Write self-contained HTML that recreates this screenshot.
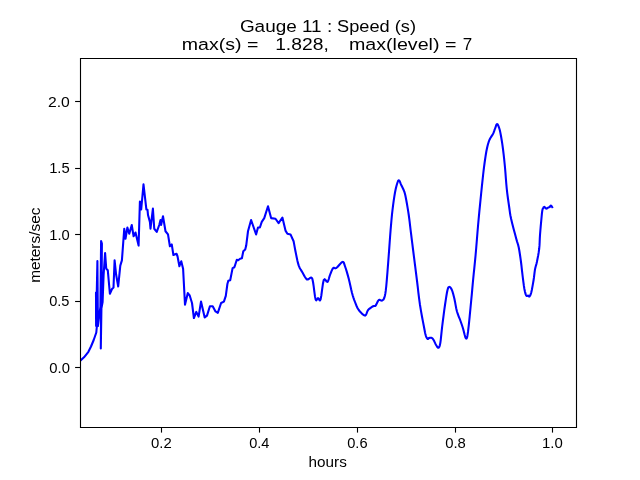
<!DOCTYPE html>
<html><head><meta charset="utf-8"><style>
html,body{margin:0;padding:0;background:#fff;width:640px;height:480px;overflow:hidden}
svg{display:block;will-change:transform}
.t{font-family:"Liberation Sans",sans-serif;font-size:13.89px;fill:#000}
.tt{font-family:"Liberation Sans",sans-serif;font-size:16.67px;fill:#000;white-space:pre}
</style></head><body>
<svg width="640" height="480" viewBox="0 0 640 480">
<clipPath id="c"><rect x="80.5" y="58.5" width="496" height="369"/></clipPath>
<path d="M78.00 362.90 L80.00 361.00 L84.00 357.30 L88.40 351.80 L91.00 346.50 L93.70 340.00 L96.30 332.50 L96.90 326.00 L96.00 292.50 L96.10 326.00 L97.40 261.00 L97.90 326.00 L100.40 307.00 L101.10 241.00 L101.90 243.50 L101.40 310.00 L100.80 348.50 L101.10 310.00 L102.60 302.00 L103.60 275.00 L105.10 253.00 L106.25 268.75 L107.80 270.30 L109.90 293.75 L112.00 289.00 L113.50 287.50 L114.60 260.40 L116.10 274.50 L118.20 286.50 L120.30 265.60 L121.90 260.40 L124.25 228.75 L125.50 238.75 L127.40 227.50 L129.25 233.75 L131.75 225.00 L133.60 236.25 L135.50 232.50 L138.60 245.60 L139.90 201.50 L141.20 209.50 L143.50 184.30 L146.40 209.60 L147.50 209.80 L148.00 215.00 L149.90 221.90 L150.50 228.75 L152.90 208.60 L154.25 228.75 L156.75 231.90 L159.25 225.00 L160.50 220.00 L161.10 225.00 L163.00 216.25 L165.50 231.25 L168.00 234.40 L169.90 246.25 L171.75 244.40 L173.40 255.00 L176.50 253.75 L177.50 256.25 L179.40 266.25 L181.25 261.25 L183.10 268.75 L185.00 304.80 L187.80 293.10 L189.70 295.50 L192.00 303.00 L193.90 318.00 L196.30 311.90 L198.60 316.60 L201.00 301.60 L204.70 317.50 L207.00 315.60 L209.90 306.20 L212.70 306.20 L215.50 311.40 L217.80 312.80 L221.10 303.00 L223.90 301.60 L225.80 295.90 L227.40 284.00 L228.30 280.80 L230.20 280.30 L232.60 268.10 L234.40 267.20 L236.80 259.70 L238.20 260.20 L240.10 258.70 L241.90 258.30 L243.30 251.20 L245.20 249.40 L246.20 245.60 L248.00 231.25 L251.10 220.00 L256.10 234.40 L258.00 227.50 L259.90 227.50 L261.75 221.90 L264.25 218.10 L268.00 206.25 L271.10 218.10 L275.50 218.75 L278.60 223.10 L282.40 217.50 L285.50 230.60 L287.40 233.75 L290.50 234.40 L293.60 241.25 L294.05 243.66 L294.68 247.12 L295.41 250.94 L296.10 254.40 L296.73 257.44 L297.35 260.39 L298.01 263.15 L298.75 265.60 L299.59 267.63 L300.52 269.32 L301.49 270.88 L302.50 272.50 L303.56 274.43 L304.66 276.50 L305.79 278.29 L306.90 279.40 L308.05 279.38 L309.23 278.57 L310.34 277.70 L311.25 277.50 L311.87 277.99 L312.29 278.82 L312.65 280.25 L313.10 282.50 L313.68 286.31 L314.31 291.34 L314.96 296.18 L315.60 299.40 L316.23 300.29 L316.85 299.72 L317.48 298.67 L318.10 298.10 L318.71 298.73 L319.31 299.88 L319.93 300.47 L320.60 299.40 L321.33 295.51 L322.10 289.66 L322.91 283.84 L323.75 280.00 L324.67 279.18 L325.67 280.17 L326.64 281.54 L327.50 281.90 L328.20 280.79 L328.79 279.00 L329.36 276.93 L330.00 275.00 L330.73 273.11 L331.51 271.12 L332.31 269.34 L333.10 268.10 L333.81 267.76 L334.48 268.06 L335.24 268.37 L336.25 268.10 L337.68 266.74 L339.42 264.73 L341.13 262.85 L342.50 261.90 L343.36 262.05 L343.91 262.91 L344.38 264.34 L345.00 266.25 L345.86 268.77 L346.83 271.91 L347.83 275.35 L348.75 278.75 L349.58 282.20 L350.37 285.81 L351.13 289.33 L351.90 292.50 L352.66 295.21 L353.41 297.61 L354.18 299.83 L355.00 302.00 L355.83 304.16 L356.68 306.24 L357.62 308.20 L358.75 310.00 L360.21 311.83 L361.92 313.65 L363.60 315.04 L365.00 315.60 L365.95 314.94 L366.63 313.38 L367.27 311.53 L368.10 310.00 L369.27 308.86 L370.64 307.82 L371.98 306.93 L373.10 306.25 L373.89 305.99 L374.47 306.04 L374.99 306.04 L375.60 305.60 L376.34 304.40 L377.13 302.72 L377.95 301.08 L378.75 300.00 L379.55 299.80 L380.37 300.14 L381.16 300.56 L381.90 300.60 L382.59 300.28 L383.23 299.79 L383.84 298.93 L384.40 297.50 L384.89 295.73 L385.32 293.63 L385.76 290.66 L386.25 286.25 L386.84 279.70 L387.50 271.48 L388.16 262.84 L388.75 255.00 L389.26 248.19 L389.71 241.80 L390.15 235.75 L390.60 230.00 L391.06 224.59 L391.51 219.53 L391.98 214.71 L392.50 210.00 L393.08 205.27 L393.71 200.62 L394.36 196.29 L395.00 192.50 L395.65 189.29 L396.31 186.54 L396.94 184.27 L397.50 182.50 L397.95 181.26 L398.32 180.54 L398.68 180.27 L399.10 180.40 L399.58 181.03 L400.08 182.14 L400.63 183.53 L401.25 185.00 L402.00 186.54 L402.84 188.23 L403.68 190.04 L404.40 191.90 L404.94 193.68 L405.37 195.44 L405.77 197.46 L406.25 200.00 L406.84 203.26 L407.50 207.07 L408.16 211.09 L408.75 215.00 L409.24 218.63 L409.68 222.19 L410.11 225.90 L410.60 230.00 L411.15 234.41 L411.73 239.06 L412.37 244.18 L413.10 250.00 L413.98 256.91 L414.96 264.69 L415.97 272.62 L416.90 280.00 L417.71 286.68 L418.44 293.03 L419.19 299.11 L420.00 305.00 L420.97 310.91 L422.02 316.74 L423.05 322.08 L423.90 326.50 L424.52 329.78 L424.98 332.19 L425.38 334.02 L425.80 335.60 L426.28 336.93 L426.75 337.88 L427.22 338.51 L427.65 338.90 L428.01 338.95 L428.32 338.66 L428.65 338.26 L429.10 338.00 L429.73 337.88 L430.48 337.80 L431.24 337.82 L431.90 338.00 L432.42 338.36 L432.85 338.86 L433.27 339.50 L433.75 340.30 L434.30 341.35 L434.90 342.62 L435.50 343.90 L436.10 345.00 L436.69 346.01 L437.28 346.99 L437.85 347.67 L438.40 347.80 L438.90 347.44 L439.38 346.68 L439.83 345.31 L440.30 343.10 L440.75 339.84 L441.19 335.71 L441.66 331.06 L442.20 326.25 L442.84 321.10 L443.56 315.51 L444.30 309.98 L445.00 305.00 L445.66 300.53 L446.31 296.37 L446.92 292.77 L447.50 290.00 L448.00 288.24 L448.45 287.32 L448.90 286.96 L449.40 286.90 L449.98 287.11 L450.61 287.71 L451.26 288.68 L451.90 290.00 L452.52 291.70 L453.15 293.79 L453.77 296.17 L454.40 298.75 L455.00 301.67 L455.57 304.92 L456.19 308.21 L456.90 311.25 L457.77 313.98 L458.75 316.56 L459.73 318.98 L460.60 321.25 L461.30 323.25 L461.90 325.02 L462.48 326.78 L463.10 328.75 L463.82 331.41 L464.58 334.51 L465.33 337.16 L466.00 338.50 L466.53 338.59 L466.98 337.80 L467.43 335.71 L468.00 331.90 L468.76 325.42 L469.63 316.79 L470.51 307.73 L471.25 300.00 L471.80 294.28 L472.22 289.57 L472.62 285.07 L473.10 280.00 L473.68 274.22 L474.31 268.12 L474.96 261.72 L475.60 255.00 L476.23 247.73 L476.86 240.00 L477.48 232.27 L478.10 225.00 L478.70 218.40 L479.29 212.19 L479.89 206.13 L480.50 200.00 L481.15 193.52 L481.83 186.88 L482.49 180.55 L483.10 175.00 L483.62 170.46 L484.09 166.64 L484.54 163.25 L485.00 160.00 L485.46 156.87 L485.91 153.98 L486.38 151.30 L486.90 148.75 L487.45 146.33 L488.04 144.06 L488.68 141.95 L489.40 140.00 L490.28 138.23 L491.29 136.64 L492.27 135.17 L493.10 133.75 L493.70 132.41 L494.15 131.16 L494.55 129.95 L495.00 128.75 L495.51 127.32 L496.03 125.77 L496.56 124.51 L497.10 124.00 L497.67 124.43 L498.27 125.53 L498.85 127.06 L499.40 128.75 L499.89 130.57 L500.35 132.64 L500.80 134.96 L501.25 137.50 L501.71 140.24 L502.17 143.20 L502.63 146.44 L503.10 150.00 L503.58 153.94 L504.06 158.20 L504.53 162.74 L505.00 167.50 L505.43 172.61 L505.84 178.05 L506.26 183.53 L506.75 188.75 L507.34 193.79 L507.99 198.75 L508.65 203.40 L509.25 207.50 L509.68 210.63 L510.01 213.05 L510.42 215.50 L511.10 218.75 L512.22 223.40 L513.63 228.91 L515.07 234.34 L516.25 238.75 L517.07 241.59 L517.68 243.47 L518.20 245.17 L518.75 247.50 L519.35 250.76 L519.94 254.48 L520.50 258.35 L521.00 262.00 L521.42 265.33 L521.77 268.53 L522.11 271.71 L522.50 275.00 L522.95 278.60 L523.43 282.40 L523.92 286.00 L524.40 289.00 L524.87 291.32 L525.33 293.18 L525.79 294.59 L526.25 295.60 L526.73 296.04 L527.21 295.96 L527.68 295.69 L528.10 295.60 L528.45 295.88 L528.75 296.30 L529.05 296.60 L529.40 296.50 L529.81 296.04 L530.26 295.34 L530.74 294.21 L531.25 292.50 L531.82 289.93 L532.45 286.66 L533.07 283.19 L533.60 280.00 L534.01 277.14 L534.33 274.39 L534.64 271.79 L535.00 269.40 L535.43 267.44 L535.89 265.81 L536.39 264.10 L536.90 261.90 L537.48 259.02 L538.12 255.72 L538.72 252.21 L539.20 248.75 L539.49 245.41 L539.66 242.05 L539.79 238.61 L540.00 235.00 L540.32 230.98 L540.69 226.67 L541.07 222.52 L541.40 219.00 L541.66 216.23 L541.88 213.96 L542.09 212.11 L542.30 210.60 L542.52 209.51 L542.74 208.84 L542.96 208.41 L543.20 208.00 L543.44 207.55 L543.68 207.18 L543.96 206.94 L544.30 206.90 L544.73 207.19 L545.23 207.74 L545.75 208.30 L546.25 208.60 L546.73 208.53 L547.20 208.24 L547.66 207.89 L548.10 207.60 L548.53 207.44 L548.94 207.32 L549.33 207.20 L549.70 207.00 L550.01 206.62 L550.28 206.11 L550.56 205.70 L550.90 205.60 L551.37 205.99 L551.92 206.71 L552.44 207.48 L552.80 208.00" fill="none" stroke="#0000ff" stroke-width="2.08" stroke-linejoin="round" stroke-linecap="butt" clip-path="url(#c)"/>
<path d="M80.5 58 V428 M576.5 58 V428 M80 58.5 H577 M80 427.5 H577" fill="none" stroke="#000" stroke-width="1.11"/>
<line x1="75.1" y1="101.50" x2="80.5" y2="101.50" stroke="#000" stroke-width="1.11"/>
<text transform="translate(47.902 107.000) scale(1.1306 1.0000)" class="t">2.0</text>
<line x1="75.1" y1="168.50" x2="80.5" y2="168.50" stroke="#000" stroke-width="1.11"/>
<text transform="translate(49.135 172.900) scale(1.0648 1.0000)" class="t">1.5</text>
<line x1="75.1" y1="234.50" x2="80.5" y2="234.50" stroke="#000" stroke-width="1.11"/>
<text transform="translate(49.188 240.000) scale(1.0620 1.0000)" class="t">1.0</text>
<line x1="75.1" y1="301.50" x2="80.5" y2="301.50" stroke="#000" stroke-width="1.11"/>
<text transform="translate(49.174 305.900) scale(1.0521 1.0000)" class="t">0.5</text>
<line x1="75.1" y1="367.50" x2="80.5" y2="367.50" stroke="#000" stroke-width="1.11"/>
<text transform="translate(49.266 372.900) scale(1.0685 1.0000)" class="t">0.0</text>
<line x1="161.50" y1="427.5" x2="161.50" y2="432.6" stroke="#000" stroke-width="1.11"/>
<text transform="translate(151.064 447.800) scale(1.0722 1.0000)" class="t">0.2</text>
<line x1="259.50" y1="427.5" x2="259.50" y2="432.6" stroke="#000" stroke-width="1.11"/>
<text transform="translate(249.176 447.800) scale(1.0486 1.0000)" class="t">0.4</text>
<line x1="357.50" y1="427.5" x2="357.50" y2="432.6" stroke="#000" stroke-width="1.11"/>
<text transform="translate(347.223 447.800) scale(1.0548 1.0000)" class="t">0.6</text>
<line x1="455.50" y1="427.5" x2="455.50" y2="432.6" stroke="#000" stroke-width="1.11"/>
<text transform="translate(445.214 447.800) scale(1.0712 1.0000)" class="t">0.8</text>
<line x1="552.50" y1="427.5" x2="552.50" y2="432.6" stroke="#000" stroke-width="1.11"/>
<text transform="translate(542.024 447.800) scale(1.0761 1.0000)" class="t">1.0</text>
<text transform="translate(308.599 466.900) scale(1.1008 1.0400)" class="t">hours</text>
<text transform="translate(40.1 282.808) rotate(-90) scale(1.1083 1.04)" class="t">meters/sec</text>
<text transform="translate(239.898 31.700) scale(1.1361 1.0300)" class="tt">Gauge 11 :</text>
<text transform="translate(337.080 31.700) scale(1.0936 1.0300)" class="tt">Speed (s)</text>
<text transform="translate(181.827 49.700) scale(1.1732 1.0300)" class="tt">max(s) =</text>
<text transform="translate(275.155 49.700) scale(1.1563 1.0300)" class="tt">1.828,</text>
<text transform="translate(348.921 49.700) scale(1.1788 1.0300)" class="tt">max(level) =</text>
<text transform="translate(462.835 49.700) scale(1.0194 1.0300)" class="tt">7</text>
</svg>
</body></html>
